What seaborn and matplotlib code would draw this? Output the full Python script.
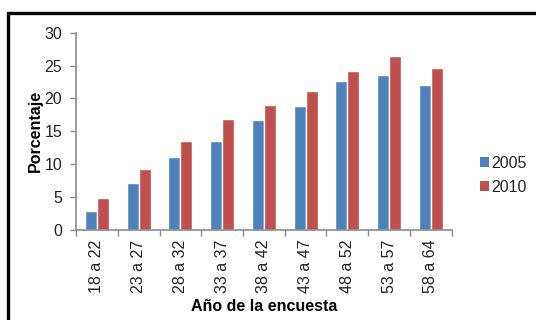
import matplotlib
matplotlib.use("Agg")
import matplotlib.pyplot as plt
from matplotlib.patches import Rectangle, Patch
import seaborn as sns
import pandas as pd

# Age groups and percentages per survey year
grupos = ["18 a 22", "23 a 27", "28 a 32", "33 a 37", "38 a 42",
          "43 a 47", "48 a 52", "53 a 57", "58 a 64"]
valores_2005 = [2.9, 7.1, 11.1, 13.6, 16.7, 18.8, 22.7, 23.6, 22.0]
valores_2010 = [4.8, 9.3, 13.5, 16.9, 19.0, 21.2, 24.2, 26.4, 24.7]
anios = ["2005", "2010"]
colores = ["#4F81BD", "#C0504D"]

df = pd.DataFrame({
    "grupo": grupos * 2,
    "valor": valores_2005 + valores_2010,
    "anio": [anios[0]] * len(grupos) + [anios[1]] * len(grupos),
})

sns.set_theme(style="white")
plt.rcParams["font.family"] = ["Liberation Sans", "DejaVu Sans"]

fig = plt.figure(figsize=(5.36, 3.2), dpi=100)
ax = fig.add_axes([0.1418, 0.281, 0.701, 0.617])

sns.barplot(data=df, x="grupo", y="valor", hue="anio", palette=colores,
            width=0.58, gap=0, ax=ax, legend=False, saturation=1)

ax.set_ylim(0, 30)
ax.set_yticks(range(0, 31, 5))
ax.set_xlim(-0.5, len(grupos) - 0.5)

gris = "#8C8C8C"
texto = "#222222"
for s in ["top", "right"]:
    ax.spines[s].set_visible(False)
for s in ["left", "bottom"]:
    ax.spines[s].set_color(gris)
    ax.spines[s].set_linewidth(1.2)

ax.tick_params(axis="y", which="major", direction="out", length=4, width=1,
               color=gris, labelsize=11.5, pad=6, left=True, labelcolor=texto)
ax.tick_params(axis="x", which="major", length=0, labelsize=11.5, pad=7,
               labelrotation=90, labelcolor=texto)
ax.set_xticks([i + 0.5 for i in range(-1, len(grupos))], minor=True)
ax.tick_params(axis="x", which="minor", direction="out", length=4, width=1,
               color=gris, bottom=True)
for lbl in ax.get_xticklabels():
    lbl.set_verticalalignment("top")

ax.set_xlabel("Año de la encuesta", fontsize=11.5, fontweight="bold",
              labelpad=4, color="black")
ax.set_ylabel("Porcentaje", fontsize=11.5, fontweight="bold", labelpad=1,
              color="black")

handles = [Patch(facecolor=c, edgecolor="none", label=a)
           for c, a in zip(colores, anios)]
fig.legend(handles=handles, loc="center left", bbox_to_anchor=(0.883, 0.452),
           frameon=False, fontsize=11.5, handlelength=0.6, handleheight=0.6,
           handletextpad=0.1, labelspacing=0.55, borderaxespad=0,
           labelcolor=texto)

# Black frame around the chart
fig.patches.append(Rectangle((8 / 536, -0.1), 1.2, 1.1 - 12.5 / 320,
                             transform=fig.transFigure, fill=False,
                             edgecolor="black", linewidth=2.4))

fig.savefig("out.png", dpi=100)
